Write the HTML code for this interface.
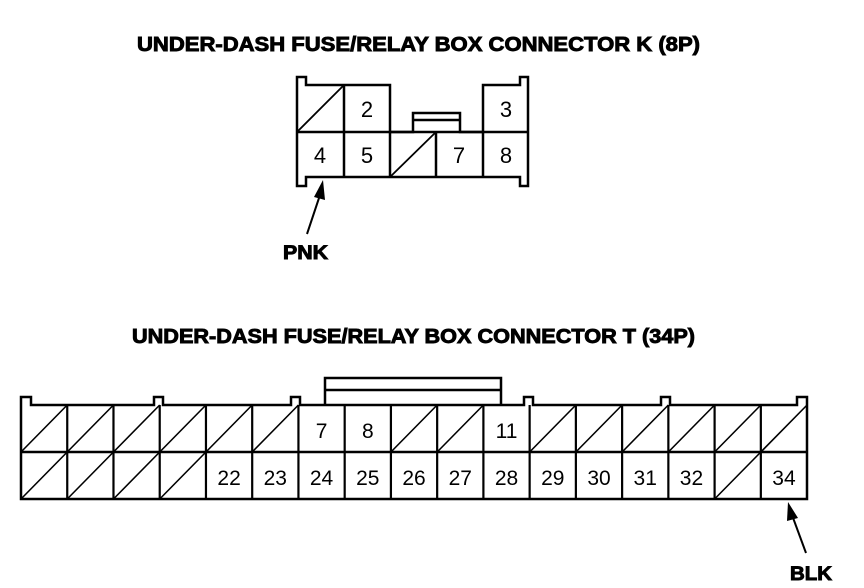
<!DOCTYPE html>
<html><head><style>
html,body{margin:0;padding:0;background:#fff;}
svg{display:block;}
text{font-family:"Liberation Sans",Arial,sans-serif;}
</style></head><body>
<svg width="864" height="588" viewBox="0 0 864 588" xmlns="http://www.w3.org/2000/svg">
<g fill="#000" stroke="#000" stroke-width="0.9">
<text x="137" y="51" font-size="20" font-weight="bold" textLength="563" lengthAdjust="spacingAndGlyphs">UNDER-DASH FUSE/RELAY BOX CONNECTOR K (8P)</text>
<text x="132" y="343" font-size="20" font-weight="bold" textLength="563" lengthAdjust="spacingAndGlyphs">UNDER-DASH FUSE/RELAY BOX CONNECTOR T (34P)</text>
<text x="283" y="259" font-size="19" font-weight="bold" textLength="45" lengthAdjust="spacingAndGlyphs">PNK</text>
<text x="790" y="580" font-size="19" font-weight="bold" textLength="42" lengthAdjust="spacingAndGlyphs">BLK</text>
</g>
<g fill="none" stroke="#000" stroke-width="2.5">
<path d="M297,77 H306 V85 H390 V132 H413 V113 H460 V132 H483 V85 H520 V77 H528 V186 H520 V177 H306 V186 H297 Z"/>
<line x1="413" y1="120" x2="460" y2="120"/>
<line x1="297" y1="132" x2="528" y2="132"/>
<line x1="344" y1="85" x2="344" y2="177"/>
<line x1="390" y1="132" x2="390" y2="177"/>
<line x1="436" y1="132" x2="436" y2="177"/>
<line x1="483" y1="132" x2="483" y2="177"/>
</g>
<g stroke="#000" stroke-width="1.8">
<line x1="297" y1="132" x2="344" y2="85"/>
<line x1="390" y1="177" x2="436" y2="132"/>
</g>
<g fill="#000" font-size="22" text-anchor="middle">
<text x="367" y="117">2</text>
<text x="506" y="117">3</text>
<text x="320" y="163">4</text>
<text x="367" y="163">5</text>
<text x="459" y="163">7</text>
<text x="506" y="163">8</text>
</g>
<line x1="307" y1="234" x2="320" y2="195" stroke="#000" stroke-width="2"/>
<polygon points="323,180 325,200 314,197" fill="#000"/>
<g fill="none" stroke="#000" stroke-width="2.5">
<path d="M21,397 H31 V405 H154 V397 H163 V405 H291 V397 H300 V405 H524 V397 H533 V405 H661 V397 H670 V405 H797 V397 H807 V499 H21 Z"/>
<path d="M325,405 V378 H501 V405"/>
<line x1="325" y1="390" x2="501" y2="390"/>
<line x1="21" y1="452" x2="807" y2="452"/>
</g>
<g id="cols" stroke="#000" stroke-width="2.2"></g>
<g id="diag" stroke="#000" stroke-width="1.6"></g>
<g id="nums" fill="#000" font-size="21" text-anchor="middle"></g>
<line x1="806" y1="553" x2="792" y2="515" stroke="#000" stroke-width="2"/>
<polygon points="788,502 798,518 787,521" fill="#000"/>
</svg>
<script>
(function(){
var ns="http://www.w3.org/2000/svg";
var x0=21,w=46.24,t=405,m=452,b=499;
var cols=document.getElementById('cols'),diag=document.getElementById('diag'),nums=document.getElementById('nums');
function el(p,tag,a){var e=document.createElementNS(ns,tag);for(var k in a)e.setAttribute(k,a[k]);p.appendChild(e);return e;}
for(var i=1;i<17;i++){var x=x0+i*w;el(cols,'line',{x1:x,y1:t,x2:x,y2:b});}
var top={7:"7",8:"8",11:"11"};
var bot={5:"22",6:"23",7:"24",8:"25",9:"26",10:"27",11:"28",12:"29",13:"30",14:"31",15:"32",17:"34"};
for(var c=1;c<=17;c++){
 var xl=x0+(c-1)*w,xr=xl+w;
 if(top[c]){var tx=el(nums,'text',{x:xl+w/2,y:t+33});tx.textContent=top[c];}
 else el(diag,'line',{x1:xl,y1:m,x2:xr,y2:t});
 if(bot[c]){var tx2=el(nums,'text',{x:xl+w/2,y:m+33});tx2.textContent=bot[c];}
 else el(diag,'line',{x1:xl,y1:b,x2:xr,y2:m});
}
})();
</script>
</body></html>
